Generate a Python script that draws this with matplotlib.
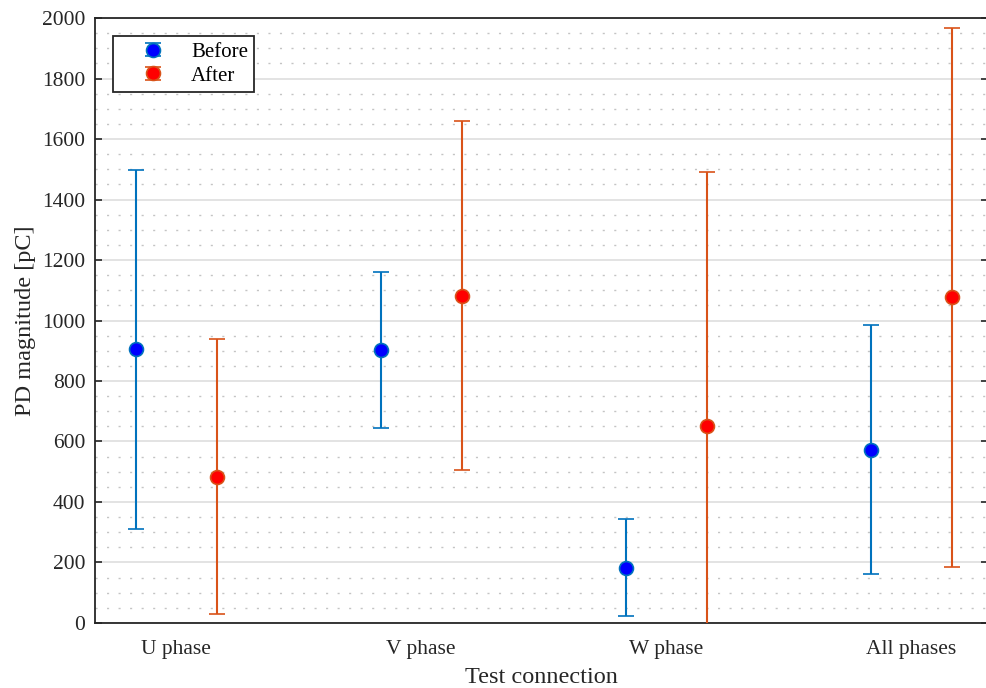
import numpy as np
import matplotlib
matplotlib.use("Agg")
import matplotlib.pyplot as plt
from matplotlib.ticker import MultipleLocator
from matplotlib.legend_handler import HandlerErrorbar

plt.rcParams['font.family'] = ['Liberation Serif', 'DejaVu Serif']

connections = ["U phase", "V phase", "W phase", "All phases"]
before_mean = [905, 903, 183, 573]
before_err = [593, 258, 160, 412]
after_mean = [484, 1082, 651, 1077]
after_err = [455, 577, 839, 891]

blue_line, blue_face = '#0072BD', '#0000FF'
red_line, red_face = '#D95319', '#FF0000'
txt = '#262626'

fig = plt.figure(figsize=(9.87, 6.88), dpi=100)
ax = fig.add_axes([0.0963, 0.0945, 0.9048, 0.8793])

x = np.arange(1, len(connections) + 1)
dx = 0.165
ax.errorbar(x - dx, before_mean, yerr=before_err, ls='none', marker='o',
            ms=10, mfc=blue_face, mec=blue_line, mew=1.2, color=blue_line,
            elinewidth=1.5, capsize=6, capthick=1.5, label='Before', zorder=3)
ax.errorbar(x + dx, after_mean, yerr=after_err, ls='none', marker='o',
            ms=10, mfc=red_face, mec=red_line, mew=1.2, color=red_line,
            elinewidth=1.5, capsize=6, capthick=1.5, label='After', zorder=3)

ax.set_xlim(0.669, 4.314)
ax.set_ylim(0, 2000)
ax.set_xticks(x)
ax.set_xticklabels(connections)
ax.yaxis.set_major_locator(MultipleLocator(200))
ax.yaxis.set_minor_locator(MultipleLocator(50))

ax.grid(axis='y', which='major', color='#dedede', lw=1.2, ls='-', zorder=0)
ax.grid(axis='y', which='minor', color='#c4c4c4', lw=1.0, ls=(0, (1.5, 6.8)), zorder=0)
ax.set_axisbelow(True)

ax.tick_params(axis='y', which='major', direction='in', length=5, width=1.2, pad=7,
               left=True, right=True, labelsize=15.5, colors=txt, labelcolor=txt)
ax.tick_params(axis='y', which='minor', left=False, right=False)
ax.tick_params(axis='x', length=0, labelsize=15.5, pad=12, labelcolor=txt)
for s in ax.spines.values():
    s.set_linewidth(1.3)
    s.set_color(txt)

ax.set_ylabel('PD magnitude [pC]', fontsize=17.5, color=txt, labelpad=4)
ax.set_xlabel('Test connection', fontsize=17.5, color=txt, labelpad=6)

leg = ax.legend(loc='upper left', bbox_to_anchor=(0.0202, 0.970), fontsize=15,
                frameon=True, fancybox=False, edgecolor=txt,
                handlelength=3.2, handletextpad=0.25, borderpad=0.3,
                labelspacing=0.2, borderaxespad=0,
                handler_map={type(ax.containers[0]): HandlerErrorbar(yerr_size=0.32)})
leg.get_frame().set_linewidth(1.3)
leg.get_frame().set_alpha(1)

fig.savefig('out.png', dpi=100)
